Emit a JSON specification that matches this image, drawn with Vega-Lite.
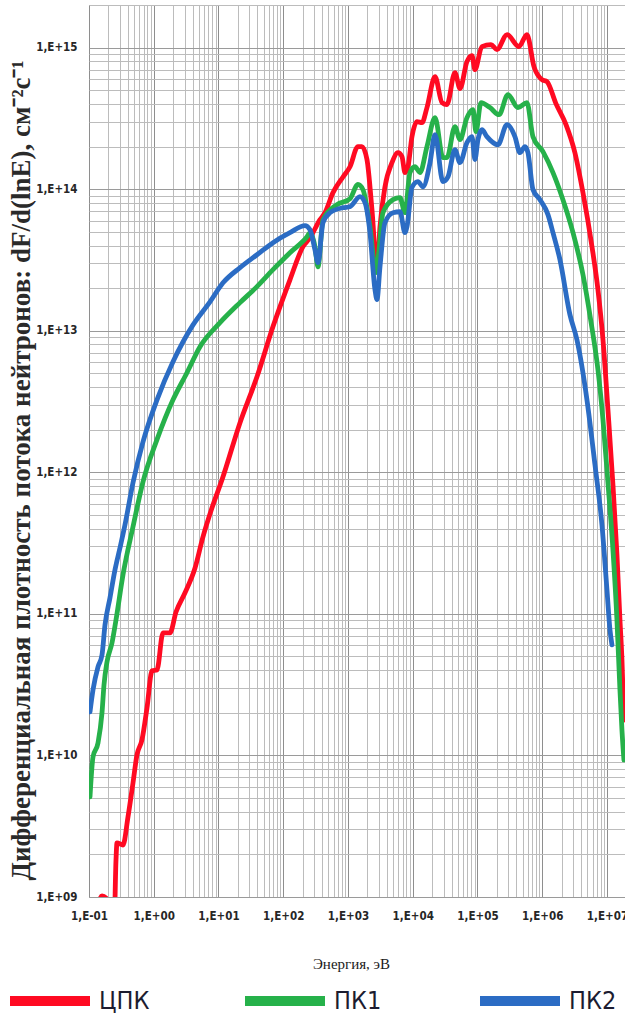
{
  "$schema": "https://vega.github.io/schema/vega-lite/v6.json",
  "width": 536,
  "height": 892,
  "autosize": {"type": "none"},
  "padding": {"left": 89, "top": 5, "right": 0, "bottom": 120},
  "background": "white",
  "config": {"view": {"stroke": "#a0a0a0", "strokeWidth": 1}},
  "data": {"values": [
    {"s":"ЦПК","E":0.1377,"F":8.78e8},{"s":"ЦПК","E":0.1588,"F":1.016e9},{"s":"ЦПК","E":0.183,"F":9.84e8},{"s":"ЦПК","E":0.2036,"F":5.85e8},{"s":"ЦПК","E":0.2433,"F":5.85e8},{"s":"ЦПК","E":0.2612,"F":1.83e9},{"s":"ЦПК","E":0.2706,"F":2.41e9},{"s":"ЦПК","E":0.335,"F":2.33e9},{"s":"ЦПК","E":0.4003,"F":3.68e9},{"s":"ЦПК","E":0.478,"F":6.39e9},{"s":"ЦПК","E":0.5511,"F":1.01e10},{"s":"ЦПК","E":0.6584,"F":1.29e10},{"s":"ЦПК","E":0.7866,"F":2.17e10},{"s":"ЦПК","E":0.9397,"F":3.96e10},{"s":"ЦПК","E":1.122,"F":4.02e10},{"s":"ЦПК","E":1.39,"F":7.34e10},{"s":"ЦПК","E":1.782,"F":7.34e10},{"s":"ЦПК","E":2.206,"F":1.03e11},{"s":"ЦПК","E":3.04,"F":1.41e11},{"s":"ЦПК","E":4.34,"F":2.11e11},{"s":"ЦПК","E":5.76,"F":3.5e11},{"s":"ЦПК","E":7.94,"F":5.61e11},{"s":"ЦПК","E":11.33,"F":8.85e11},{"s":"ЦПК","E":21.5,"F":2.24e12},{"s":"ЦПК","E":39.3,"F":4.73e12},{"s":"ЦПК","E":69.5,"F":1.07e13},{"s":"ЦПК","E":127,"F":2.29e13},{"s":"ЦПК","E":202,"F":3.93e13},{"s":"ЦПК","E":259,"F":4.54e13},{"s":"ЦПК","E":370,"F":6.09e13},{"s":"ЦПК","E":441,"F":6.82e13},{"s":"ЦПК","E":587,"F":9.45e13},{"s":"ЦПК","E":837,"F":1.22e14},{"s":"ЦПК","E":1074,"F":1.44e14},{"s":"ЦПК","E":1427,"F":2.0e14},{"s":"ЦПК","E":1645,"F":2.0e14},{"s":"ЦПК","E":1965,"F":1.62e14},{"s":"ЦПК","E":2348,"F":7.16e13},{"s":"ЦПК","E":2805,"F":2.7e13},{"s":"ЦПК","E":3121,"F":5.43e13},{"s":"ЦПК","E":3727,"F":1.04e14},{"s":"ЦПК","E":4781,"F":1.54e14},{"s":"ЦПК","E":5920,"F":1.81e14},{"s":"ЦПК","E":6823,"F":1.7e14},{"s":"ЦПК","E":7594,"F":1.31e14},{"s":"ЦПК","E":8446,"F":1.44e14},{"s":"ЦПК","E":9737,"F":2.35e14},{"s":"ЦПК","E":11630,"F":3.0e14},{"s":"ЦПК","E":13900,"F":2.95e14},{"s":"ЦПК","E":16600,"F":3.77e14},{"s":"ЦПК","E":22100,"F":6.24e14},{"s":"ЦПК","E":28300,"F":4.09e14},{"s":"ЦПК","E":33800,"F":3.96e14},{"s":"ЦПК","E":44900,"F":6.66e14},{"s":"ЦПК","E":53700,"F":5.13e14},{"s":"ЦПК","E":68800,"F":7.96e14},{"s":"ЦПК","E":82200,"F":8.78e14},{"s":"ЦПК","E":91500,"F":6.99e14},{"s":"ЦПК","E":117000,"F":1.017e15},{"s":"ЦПК","E":161600,"F":1.05e15},{"s":"ЦПК","E":200000,"F":9.68e14},{"s":"ЦПК","E":286000,"F":1.236e15},{"s":"ЦПК","E":437000,"F":1.017e15},{"s":"ЦПК","E":581000,"F":1.236e15},{"s":"ЦПК","E":746000,"F":7.34e14},{"s":"ЦПК","E":991000,"F":5.94e14},{"s":"ЦПК","E":1184000,"F":5.75e14},{"s":"ЦПК","E":1630000,"F":4.02e14},{"s":"ЦПК","E":2330000,"F":2.86e14},{"s":"ЦПК","E":3200000,"F":1.81e14},{"s":"ЦПК","E":4260000,"F":9.45e13},{"s":"ЦПК","E":5870000,"F":3.93e13},{"s":"ЦПК","E":7260000,"F":1.95e13},{"s":"ЦПК","E":8680000,"F":8.63e12},{"s":"ЦПК","E":10360000,"F":2.77e12},{"s":"ЦПК","E":12380000,"F":8.16e11},{"s":"ЦПК","E":14270000,"F":2.61e11},{"s":"ЦПК","E":15880000,"F":9.07e10},{"s":"ЦПК","E":17050000,"F":4.73e10},{"s":"ЦПК","E":18300000,"F":1.78e10},

    {"s":"ПК1","E":0.1036,"F":5.09e9},{"s":"ПК1","E":0.1153,"F":9.76e9},{"s":"ПК1","E":0.1377,"F":1.225e10},{"s":"ПК1","E":0.1588,"F":2.0e10},{"s":"ПК1","E":0.1705,"F":3.15e10},{"s":"ПК1","E":0.1897,"F":4.58e10},{"s":"ПК1","E":0.2266,"F":6.24e10},{"s":"ПК1","E":0.2612,"F":9.07e10},{"s":"ПК1","E":0.335,"F":1.89e11},{"s":"ПК1","E":0.478,"F":4.12e11},{"s":"ПК1","E":0.6823,"F":8.57e11},{"s":"ПК1","E":1.122,"F":1.7e12},{"s":"ПК1","E":1.983,"F":3.25e12},{"s":"ПК1","E":3.26,"F":5.05e12},{"s":"ПК1","E":5.18,"F":7.71e12},{"s":"ПК1","E":10.55,"F":1.14e13},{"s":"ПК1","E":21.5,"F":1.58e13},{"s":"ПК1","E":39.3,"F":2.05e13},{"s":"ПК1","E":69.5,"F":2.7e13},{"s":"ПК1","E":127,"F":3.56e13},{"s":"ПК1","E":233,"F":4.62e13},{"s":"ПК1","E":259,"F":4.93e13},{"s":"ПК1","E":309,"F":3.93e13},{"s":"ПК1","E":344,"F":2.83e13},{"s":"ПК1","E":411,"F":6.09e13},{"s":"ПК1","E":676,"F":7.77e13},{"s":"ПК1","E":1074,"F":8.57e13},{"s":"ПК1","E":1427,"F":1.08e14},{"s":"ПК1","E":1705,"F":9.92e13},{"s":"ПК1","E":2187,"F":5.43e13},{"s":"ПК1","E":2707,"F":2.57e13},{"s":"ПК1","E":2907,"F":3.18e13},{"s":"ПК1","E":3471,"F":6.82e13},{"s":"ПК1","E":4955,"F":8.43e13},{"s":"ПК1","E":6356,"F":8.71e13},{"s":"ПК1","E":7594,"F":6.82e13},{"s":"ПК1","E":9069,"F":1.31e14},{"s":"ПК1","E":10830,"F":1.44e14},{"s":"ПК1","E":12940,"F":1.31e14},{"s":"ПК1","E":16600,"F":2.0e14},{"s":"ПК1","E":22100,"F":3.2e14},{"s":"ПК1","E":29300,"F":1.67e14},{"s":"ПК1","E":33800,"F":1.67e14},{"s":"ПК1","E":44900,"F":2.77e14},{"s":"ПК1","E":53700,"F":2.24e14},{"s":"ПК1","E":68800,"F":3.2e14},{"s":"ПК1","E":85200,"F":3.65e14},{"s":"ПК1","E":94800,"F":2.55e14},{"s":"ПК1","E":113300,"F":4.09e14},{"s":"ПК1","E":156000,"F":3.77e14},{"s":"ПК1","E":215000,"F":3.36e14},{"s":"ПК1","E":296000,"F":4.66e14},{"s":"ПК1","E":422000,"F":3.77e14},{"s":"ПК1","E":581000,"F":4.09e14},{"s":"ПК1","E":720000,"F":2.35e14},{"s":"ПК1","E":1027000,"F":1.84e14},{"s":"ПК1","E":1466000,"F":1.31e14},{"s":"ПК1","E":2090000,"F":8.43e13},{"s":"ПК1","E":2990000,"F":4.93e13},{"s":"ПК1","E":4260000,"F":2.49e13},{"s":"ПК1","E":5660000,"F":1.16e13},{"s":"ПК1","E":7260000,"F":5.3e12},{"s":"ПК1","E":8680000,"F":2.35e12},{"s":"ПК1","E":10360000,"F":8.43e11},{"s":"ПК1","E":12380000,"F":2.83e11},{"s":"ПК1","E":14270000,"F":9.07e10},{"s":"ПК1","E":15880000,"F":2.9e10},{"s":"ПК1","E":17050000,"F":1.51e10},{"s":"ПК1","E":18300000,"F":9.29e9},

    {"s":"ПК2","E":0.1036,"F":2.03e10},{"s":"ПК2","E":0.1153,"F":2.9e10},{"s":"ПК2","E":0.1377,"F":4.22e10},{"s":"ПК2","E":0.1588,"F":5.13e10},{"s":"ПК2","E":0.1767,"F":8.36e10},{"s":"ПК2","E":0.211,"F":1.3e11},{"s":"ПК2","E":0.2521,"F":2.05e11},{"s":"ПК2","E":0.3011,"F":2.93e11},{"s":"ПК2","E":0.3597,"F":4.26e11},{"s":"ПК2","E":0.478,"F":8.43e11},{"s":"ПК2","E":0.6823,"F":1.64e12},{"s":"ПК2","E":1.122,"F":3.25e12},{"s":"ПК2","E":1.983,"F":6.04e12},{"s":"ПК2","E":4.04,"F":1.1e13},{"s":"ПК2","E":7.39,"F":1.6e13},{"s":"ПК2","E":11.74,"F":2.18e13},{"s":"ПК2","E":21.5,"F":2.79e13},{"s":"ПК2","E":39.3,"F":3.44e13},{"s":"ПК2","E":69.5,"F":4.19e13},{"s":"ПК2","E":127,"F":4.93e13},{"s":"ПК2","E":217,"F":5.52e13},{"s":"ПК2","E":259,"F":5.17e13},{"s":"ПК2","E":309,"F":3.73e13},{"s":"ПК2","E":344,"F":3.03e13},{"s":"ПК2","E":411,"F":5.8e13},{"s":"ПК2","E":527,"F":6.82e13},{"s":"ПК2","E":837,"F":7.4e13},{"s":"ПК2","E":1074,"F":7.52e13},{"s":"ПК2","E":1532,"F":8.85e13},{"s":"ПК2","E":1830,"F":8.03e13},{"s":"ПК2","E":2187,"F":4.93e13},{"s":"ПК2","E":2612,"F":1.95e13},{"s":"ПК2","E":2805,"F":1.66e13},{"s":"ПК2","E":3121,"F":2.83e13},{"s":"ПК2","E":3727,"F":5.8e13},{"s":"ПК2","E":4955,"F":6.82e13},{"s":"ПК2","E":6356,"F":6.93e13},{"s":"ПК2","E":7594,"F":4.93e13},{"s":"ПК2","E":8152,"F":5.43e13},{"s":"ПК2","E":9737,"F":1.03e14},{"s":"ПК2","E":12050,"F":1.13e14},{"s":"ПК2","E":14400,"F":1.04e14},{"s":"ПК2","E":18500,"F":1.54e14},{"s":"ПК2","E":22100,"F":2.43e14},{"s":"ПК2","E":29300,"F":1.13e14},{"s":"ПК2","E":35000,"F":1.22e14},{"s":"ПК2","E":44900,"F":1.9e14},{"s":"ПК2","E":53700,"F":1.54e14},{"s":"ПК2","E":68800,"F":2.13e14},{"s":"ПК2","E":82200,"F":2.35e14},{"s":"ПК2","E":91500,"F":1.62e14},{"s":"ПК2","E":101800,"F":2.24e14},{"s":"ПК2","E":117000,"F":2.63e14},{"s":"ПК2","E":140000,"F":2.35e14},{"s":"ПК2","E":207000,"F":2.06e14},{"s":"ПК2","E":286000,"F":2.86e14},{"s":"ПК2","E":379000,"F":2.35e14},{"s":"ПК2","E":453000,"F":1.81e14},{"s":"ПК2","E":542000,"F":2.0e14},{"s":"ПК2","E":603000,"F":1.81e14},{"s":"ПК2","E":720000,"F":9.93e13},{"s":"ПК2","E":923000,"F":8.43e13},{"s":"ПК2","E":1227000,"F":6.61e13},{"s":"ПК2","E":1466000,"F":4.93e13},{"s":"ПК2","E":1880000,"F":3.18e13},{"s":"ПК2","E":2680000,"F":1.3e13},{"s":"ПК2","E":3440000,"F":8.63e12},{"s":"ПК2","E":4910000,"F":3.25e12},{"s":"ПК2","E":6530000,"F":1.13e12},{"s":"ПК2","E":8370000,"F":4.26e11},{"s":"ПК2","E":10000000,"F":1.48e11},{"s":"ПК2","E":11130000,"F":7.71e10},{"s":"ПК2","E":11950000,"F":6.04e10}
  ]},
  "mark": {"type": "line", "strokeWidth": 4.8, "strokeCap": "round", "strokeJoin": "round", "interpolate": "monotone", "clip": true},
  "encoding": {
    "x": {
      "field": "E", "type": "quantitative",
      "scale": {"type": "log", "domain": [0.1, 19000000], "nice": false},
      "axis": {
        "values": [0.1,0.2,0.3,0.4,0.5,0.6,0.7,0.8,0.9,1,2,3,4,5,6,7,8,9,10,20,30,40,50,60,70,80,90,100,200,300,400,500,600,700,800,900,1000,2000,3000,4000,5000,6000,7000,8000,9000,10000,20000,30000,40000,50000,60000,70000,80000,90000,100000,200000,300000,400000,500000,600000,700000,800000,900000,1000000,2000000,3000000,4000000,5000000,6000000,7000000,8000000,9000000,10000000],
        "grid": true,
        "gridColor": {"condition": {"test": "abs(log(datum.value)/LN10 - round(log(datum.value)/LN10)) < 0.01", "value": "#8e8e8e"}, "value": "#bcbcbc"},
        "gridWidth": 1,
        "ticks": false,
        "domain": false,
        "labelOverlap": false,
        "labelFlush": false,
        "labelExpr": "abs(log(datum.value)/LN10 - round(log(datum.value)/LN10)) < 0.01 ? '1,E' + (round(log(datum.value)/LN10) < 0 ? '-' : '+') + (abs(round(log(datum.value)/LN10)) < 10 ? '0' : '') + abs(round(log(datum.value)/LN10)) : ''",
        "labelFont": "Liberation Sans Narrow, DejaVu Sans Condensed, sans-serif",
        "labelFontSize": 11.5,
        "labelFontWeight": "bold",
        "labelColor": "#262626",
        "labelPadding": 13,
        "title": "Энергия, эВ",
        "titleFont": "Liberation Serif",
        "titleFontSize": 15,
        "titleFontWeight": "normal",
        "titleColor": "#1a1a1a",
        "titleX": 262,
        "titleY": 66,
        "titleAlign": "center",
        "titleBaseline": "middle"
      }
    },
    "y": {
      "field": "F", "type": "quantitative",
      "scale": {"type": "log", "domain": [1000000000, 2000000000000000], "nice": false},
      "axis": {
        "values": [1e9,2e9,3e9,4e9,5e9,6e9,7e9,8e9,9e9,1e10,2e10,3e10,4e10,5e10,6e10,7e10,8e10,9e10,1e11,2e11,3e11,4e11,5e11,6e11,7e11,8e11,9e11,1e12,2e12,3e12,4e12,5e12,6e12,7e12,8e12,9e12,1e13,2e13,3e13,4e13,5e13,6e13,7e13,8e13,9e13,1e14,2e14,3e14,4e14,5e14,6e14,7e14,8e14,9e14,1e15,2e15],
        "grid": true,
        "gridColor": {"condition": {"test": "abs(log(datum.value)/LN10 - round(log(datum.value)/LN10)) < 0.01", "value": "#9a9a9a"}, "value": "#bcbcbc"},
        "gridWidth": 1,
        "ticks": false,
        "domain": false,
        "labelOverlap": false,
        "labelFlush": false,
        "labelExpr": "abs(log(datum.value)/LN10 - round(log(datum.value)/LN10)) < 0.01 ? '1,E' + (round(log(datum.value)/LN10) < 0 ? '-' : '+') + (abs(round(log(datum.value)/LN10)) < 10 ? '0' : '') + abs(round(log(datum.value)/LN10)) : ''",
        "labelFont": "Liberation Sans Narrow, DejaVu Sans Condensed, sans-serif",
        "labelFontSize": 11.5,
        "labelFontWeight": "bold",
        "labelColor": "#262626",
        "labelPadding": 12,
        "title": "Дифференциальная плотность потока нейтронов: dF/d(lnE),  см⁻²с⁻¹",
        "titleFont": "Liberation Serif",
        "titleFontSize": 27,
        "titleFontWeight": "bold",
        "titleColor": "#2a2a2a",
        "titleX": -68,
        "titleY": 465,
        "titleAngle": -90,
        "titleAlign": "center",
        "titleBaseline": "middle",
        "titleLimit": 0
      }
    },
    "color": {
      "field": "s", "type": "nominal",
      "scale": {"domain": ["ЦПК", "ПК1", "ПК2"], "range": ["#ff0a22", "#26b14a", "#2b6cc4"]},
      "legend": {
        "orient": "none",
        "legendX": -84,
        "legendY": 951,
        "direction": "horizontal",
        "title": null,
        "symbolType": "stroke",
        "symbolSize": 6400,
        "symbolStrokeWidth": 10,
        "labelFont": "Liberation Sans Narrow, DejaVu Sans Condensed, sans-serif",
        "labelFontSize": 25,
        "labelColor": "#1c1c30",
        "labelOffset": 4,
        "labelLimit": 0,
        "columnPadding": 75,
        "gridAlign": "all",
        "padding": 0
      }
    }
  }
}
